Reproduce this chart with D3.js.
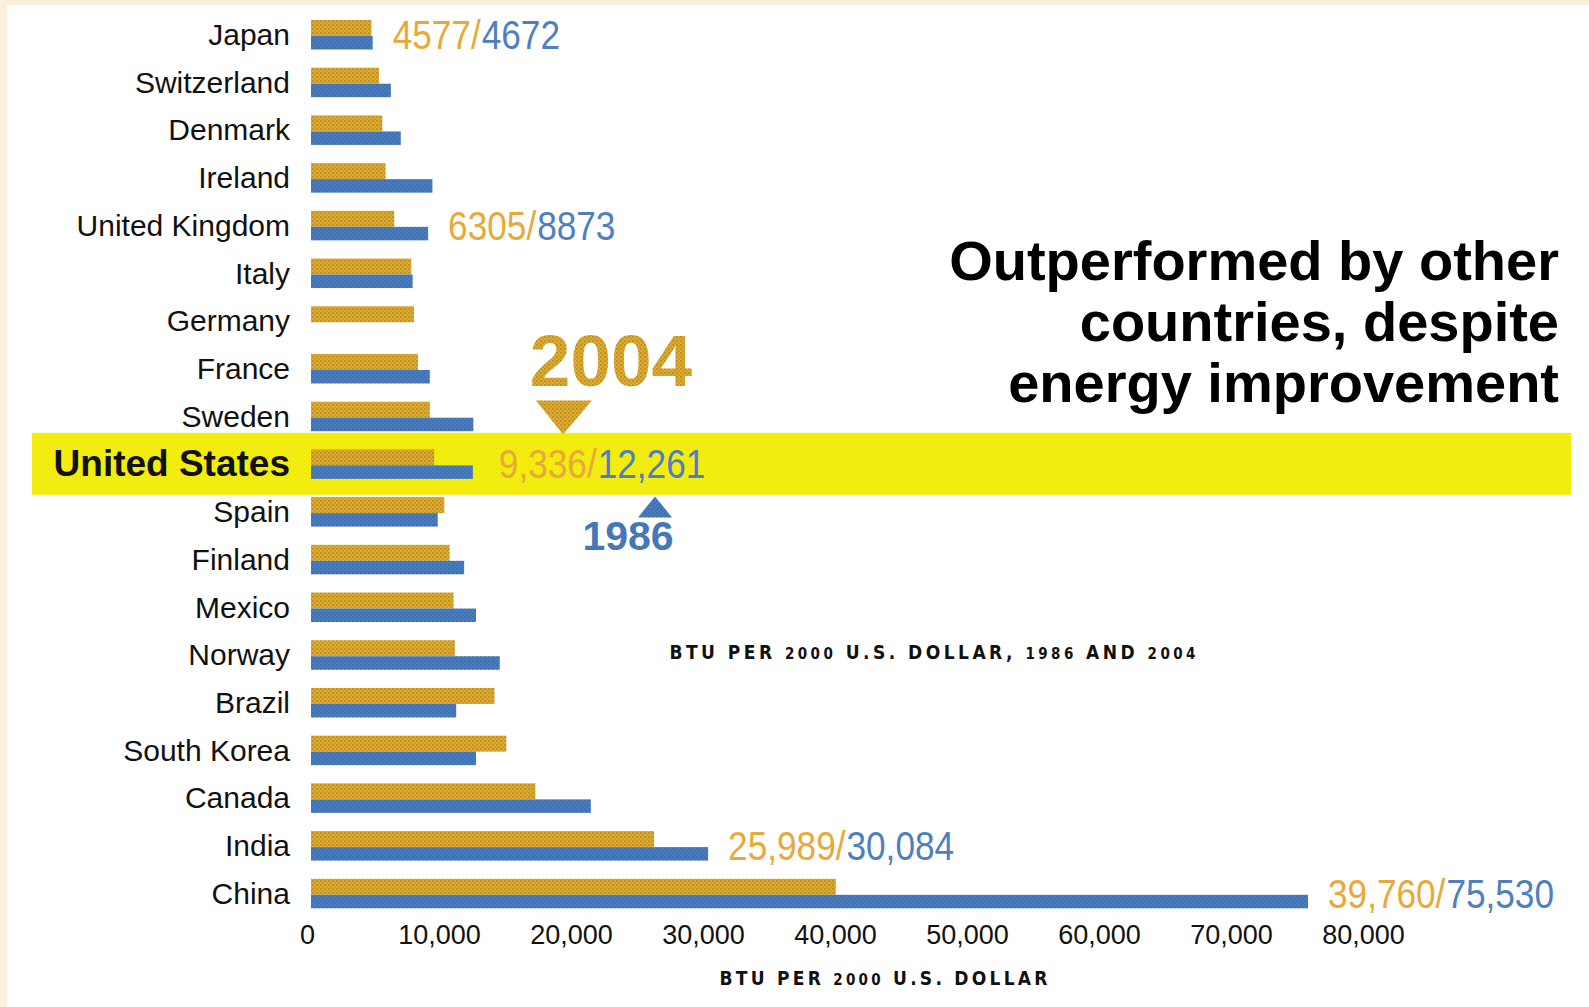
<!DOCTYPE html>
<html>
<head>
<meta charset="utf-8">
<script src="https://cdn.jsdelivr.net/npm/d3@7"></script>
<style>
  html, body { margin: 0; padding: 0; background: #ffffff; }
  svg { display: block; }
</style>
</head>
<body>
<svg id="chart" width="1589" height="1007"></svg>
<script>
// Energy intensity: BTU per 2000 U.S. dollar of GDP
const countries = [
  "Japan", "Switzerland", "Denmark", "Ireland", "United Kingdom", "Italy",
  "Germany", "France", "Sweden", "United States", "Spain", "Finland",
  "Mexico", "Norway", "Brazil", "South Korea", "Canada", "India", "China"
];
const btu2004 = [
  4577, 5150, 5400, 5650, 6305, 7600,
  7800, 8100, 9000, 9336, 10100, 10500,
  10800, 10900, 13900, 14800, 17000, 25989, 39760
];
const btu1986 = [
  4672, 6050, 6800, 9200, 8873, 7700,
  null, 9000, 12300, 12261, 9600, 11600,
  12500, 14300, 11000, 12500, 21200, 30084, 75530
];
const xTicks = [0, 10000, 20000, 30000, 40000, 50000, 60000, 70000, 80000];
const labeledCountries = ["Japan", "United Kingdom", "United States", "India", "China"];
const labelUsesCommas = [false, false, true, true, true];
const highlightCountry = "United States";
const headline = ["Outperformed by other", "countries, despite", "energy improvement"];

const GOLD = "#e2aa2c", BLUE = "#4a7dc0";
const GOLD_TEXT = "#e8a83a", BLUE_TEXT = "#4f7fbf";
const SANS = "'Liberation Sans', Arial, Helvetica, sans-serif";

const svg = d3.select("#chart");

// halftone dot fills
const defs = svg.append("defs");
function dotPattern(id, base, dot, size, r) {
  const p = defs.append("pattern").attr("id", id)
    .attr("patternUnits", "userSpaceOnUse").attr("width", size).attr("height", size);
  p.append("rect").attr("width", size).attr("height", size).attr("fill", base);
  p.append("circle").attr("cx", size / 4).attr("cy", size / 4).attr("r", r).attr("fill", dot);
  p.append("circle").attr("cx", size * 3 / 4).attr("cy", size * 3 / 4).attr("r", r * 0.8).attr("fill", dot);
}
dotPattern("goldDots", GOLD, "#6f6a2a", 4, 0.65);
dotPattern("blueDots", BLUE, "#24406a", 4, 0.6);
dotPattern("yellowDots", "#f5ef0e", "#e6dc10", 4, 0.7);

// cream paper edge on top and left
svg.append("rect").attr("x", 0).attr("y", 0).attr("width", 1589).attr("height", 5).attr("fill", "#fbf0dc");
svg.append("rect").attr("x", 0).attr("y", 0).attr("width", 7).attr("height", 1007).attr("fill", "#fbf0dc");

const x = d3.scaleLinear().domain([0, 80000]).range([311, 1367]);
const y = d3.scalePoint().domain(countries).range([35, 893.8]);

const rows = countries.map((c, i) => ({ country: c, v04: btu2004[i], v86: btu1986[i] }));

// highlight band behind the U.S. row
svg.append("rect")
  .attr("x", 32).attr("width", 1539)
  .attr("y", y(highlightCountry) - 31.6).attr("height", 62)
  .attr("fill", "url(#yellowDots)");

// headline
svg.append("g").selectAll("text").data(headline).join("text")
  .attr("x", 1559).attr("y", (d, i) => 280 + i * 61)
  .attr("text-anchor", "end")
  .attr("font-family", SANS)
  .attr("font-weight", "bold").attr("font-size", 56)
  .attr("fill", "#000")
  .text(d => d);

// bars
const barG = svg.append("g");
barG.selectAll("rect.b04").data(rows).join("rect").attr("class", "b04")
  .attr("x", x(0)).attr("y", d => y(d.country) - 15)
  .attr("width", d => x(d.v04) - x(0)).attr("height", 16)
  .attr("fill", "url(#goldDots)");
barG.selectAll("rect.b86").data(rows.filter(d => d.v86 != null)).join("rect").attr("class", "b86")
  .attr("x", x(0)).attr("y", d => y(d.country) + 1)
  .attr("width", d => x(d.v86) - x(0)).attr("height", 13.5)
  .attr("fill", "url(#blueDots)");

// country names
svg.append("g").selectAll("text").data(rows).join("text")
  .attr("x", 290).attr("y", d => y(d.country) + (d.country === highlightCountry ? 12 : 10))
  .attr("text-anchor", "end")
  .attr("font-family", SANS)
  .attr("font-size", d => d.country === highlightCountry ? 37 : 30)
  .attr("font-weight", d => d.country === highlightCountry ? "bold" : "normal")
  .attr("fill", "#111")
  .text(d => d.country);

// value labels: 2004 / 1986, set in a horizontally condensed face
const SQUEEZE = 0.88;
const labelRows = labeledCountries.map((c, i) => {
  const r = rows[countries.indexOf(c)];
  const f = labelUsesCommas[i] ? d3.format(",") : d3.format("d");
  return { country: c, v04: r.v04, v86: r.v86, t04: f(r.v04), t86: f(r.v86) };
});
const labelG = svg.append("g");
labelRows.forEach(d => {
  const x0 = x(Math.max(d.v04, d.v86)) + (d.country === highlightCountry ? 26 : 20);
  const yb = y(d.country) + 14;
  const a = labelG.append("text")
    .attr("transform", `translate(${x0},${yb}) scale(${SQUEEZE},1)`)
    .attr("font-family", SANS).attr("font-size", 40)
    .attr("fill", GOLD_TEXT).text(d.t04 + "/");
  const w = a.node().getComputedTextLength() * SQUEEZE;
  labelG.append("text")
    .attr("transform", `translate(${x0 + w + 1},${yb}) scale(${SQUEEZE},1)`)
    .attr("font-family", SANS).attr("font-size", 40)
    .attr("fill", BLUE_TEXT).text(d.t86);
});

// year markers
const yc = y(highlightCountry);
svg.append("text").attr("x", 611).attr("y", yc - 78)
  .attr("text-anchor", "middle")
  .attr("font-family", SANS)
  .attr("font-weight", "bold").attr("font-size", 73)
  .attr("fill", "url(#goldDots)").text("2004");
svg.append("path")
  .attr("d", d3.line()([[536, yc - 64], [592, yc - 64], [563, yc - 30]]) + "Z")
  .attr("fill", "url(#goldDots)");
svg.append("path")
  .attr("d", d3.line()([[638, yc + 53], [672, yc + 53], [655, yc + 32]]) + "Z")
  .attr("fill", "url(#blueDots)");
svg.append("text").attr("x", 628).attr("y", yc + 86)
  .attr("text-anchor", "middle")
  .attr("font-family", SANS)
  .attr("font-weight", "bold").attr("font-size", 41)
  .attr("fill", "url(#blueDots)").text("1986");

// letter-spaced captions with smaller figures
function spacedTitle(xc, yb, parts, width) {
  const t = svg.append("text").attr("x", xc).attr("y", yb)
    .attr("text-anchor", "middle")
    .attr("font-family", "'DejaVu Sans Condensed', " + SANS)
    .attr("font-weight", "bold").attr("fill", "#111")
    .attr("letter-spacing", 3)
    .attr("textLength", width).attr("lengthAdjust", "spacing");
  parts.forEach(p => t.append("tspan").attr("font-size", p[1]).text(p[0]));
}
spacedTitle(934, 659, [["BTU PER ", 19], ["2000", 15], [" U.S. DOLLAR, ", 19], ["1986", 15], [" AND ", 19], ["2004", 15]], 529);

// x axis
const axis = d3.axisBottom(x).tickValues(xTicks).tickFormat(d3.format(",")).tickSize(0).tickPadding(5);
const ax = svg.append("g").attr("transform", "translate(0,920)").call(axis);
ax.select(".domain").remove();
ax.selectAll("text")
  .attr("dx", -4)
  .attr("font-family", SANS)
  .attr("font-size", 27)
  .attr("fill", "#111");

spacedTitle(885, 985, [["BTU PER ", 19], ["2000", 15], [" U.S. DOLLAR", 19]], 331);
</script>
</body>
</html>
